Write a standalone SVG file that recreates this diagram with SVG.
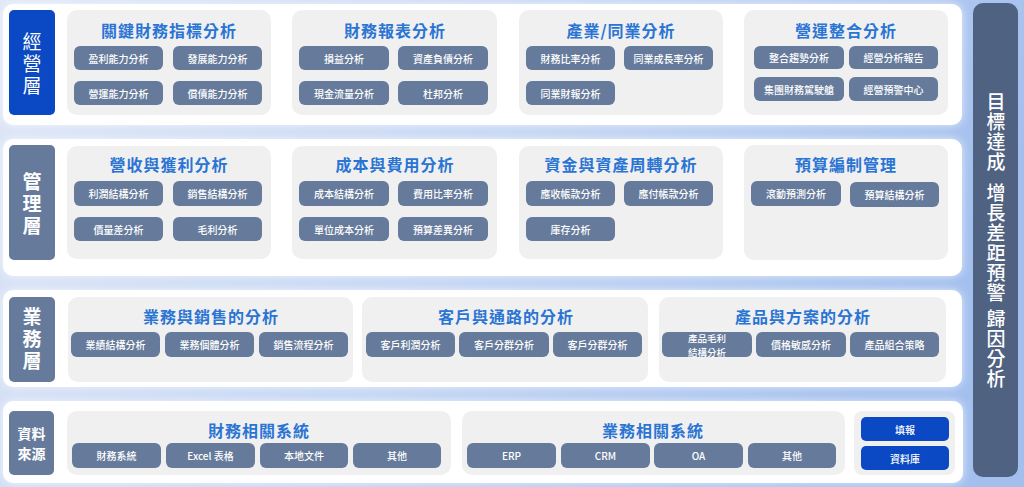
<svg xmlns="http://www.w3.org/2000/svg" width="1024" height="487" viewBox="0 0 1024 487">
<defs>
<linearGradient id="bg" x1="0" y1="0" x2="1" y2="0.3">
<stop offset="0" stop-color="#dfe7f7"/>
<stop offset="0.55" stop-color="#c3d5f3"/>
<stop offset="1" stop-color="#a3bfee"/>
</linearGradient>
<filter id="glow" x="-5%" y="-20%" width="110%" height="140%">
<feDropShadow dx="0" dy="0" stdDeviation="5" flood-color="#ffffff" flood-opacity="0.7"/>
</filter>
<style>
.panel{fill:#ffffff}
.grp{fill:#f0f0f0}
.item{fill:#667b9b}
.blue{fill:#0a49c3}
.slate{fill:#667b9b}
.col{fill:#4f6282}
text{font-family:"Noto Sans CJK TC","Noto Sans CJK SC",sans-serif;text-anchor:middle;dominant-baseline:central}
.it{font-size:10px;fill:#ffffff;font-weight:500}
.it2{font-size:9.5px;fill:#ffffff;font-weight:500}
.title{font-size:16px;font-weight:700;fill:#2a74d4;letter-spacing:1px}
.lab{font-size:19px;fill:#ffffff;writing-mode:vertical-rl;text-anchor:start;letter-spacing:3px}
.labb{font-size:19px;fill:#ffffff;font-weight:700;writing-mode:vertical-rl;text-anchor:start;letter-spacing:3px}
.src{font-size:14px;fill:#ffffff;font-weight:700}
.side{font-size:19px;fill:#ffffff;font-weight:500;writing-mode:vertical-rl;text-anchor:start;letter-spacing:1px}
</style>
</defs>
<rect width="1024" height="487" fill="url(#bg)"/>

<!-- Row panels -->
<g id="panels" filter="url(#glow)">
<rect class="panel" x="3" y="4" width="959" height="121" rx="10"/>
<rect class="panel" x="3" y="139" width="959" height="137" rx="10"/>
<rect class="panel" x="3" y="290" width="959" height="97" rx="10"/>
<rect class="panel" x="3" y="401" width="960" height="82" rx="10"/>
</g>

<!-- Row 1 -->
<g id="layer-jingying">
<rect class="blue" x="9" y="10" width="46" height="105" rx="5"/>
<text class="lab" x="32" y="32.5">經營層</text>
</g>
<g id="g-kpi">
<rect class="grp" x="67" y="10" width="204" height="105" rx="10"/>
<text class="title" x="169" y="30">關鍵財務指標分析</text>
<rect class="item" x="74" y="46" width="89" height="24" rx="6"/><text class="it" x="118.5" y="58">盈利能力分析</text>
<rect class="item" x="173" y="46" width="89" height="24" rx="6"/><text class="it" x="217.5" y="58">發展能力分析</text>
<rect class="item" x="74" y="81" width="89" height="24" rx="6"/><text class="it" x="118.5" y="93">營運能力分析</text>
<rect class="item" x="173" y="81" width="89" height="24" rx="6"/><text class="it" x="217.5" y="93">償債能力分析</text>
</g>
<g id="g-report">
<rect class="grp" x="292" y="10" width="205" height="105" rx="10"/>
<text class="title" x="395" y="30">財務報表分析</text>
<rect class="item" x="299" y="46" width="90" height="24" rx="6"/><text class="it" x="344" y="58">損益分析</text>
<rect class="item" x="398" y="46" width="90" height="24" rx="6"/><text class="it" x="443" y="58">資產負債分析</text>
<rect class="item" x="299" y="81" width="90" height="24" rx="6"/><text class="it" x="344" y="93">現金流量分析</text>
<rect class="item" x="398" y="81" width="90" height="24" rx="6"/><text class="it" x="443" y="93">杜邦分析</text>
</g>
<g id="g-industry">
<rect class="grp" x="519" y="10" width="204" height="105" rx="10"/>
<text class="title" x="621" y="30">產業/同業分析</text>
<rect class="item" x="526" y="46" width="89" height="24" rx="6"/><text class="it" x="570.5" y="58">財務比率分析</text>
<rect class="item" x="624" y="46" width="89" height="24" rx="6"/><text class="it" x="668.5" y="58">同業成長率分析</text>
<rect class="item" x="526" y="81" width="89" height="24" rx="6"/><text class="it" x="570.5" y="93">同業財報分析</text>
</g>
<g id="g-ops">
<rect class="grp" x="744" y="10" width="204" height="105" rx="10"/>
<text class="title" x="846" y="30">營運整合分析</text>
<rect class="item" x="754" y="46" width="90" height="23" rx="6"/><text class="it" x="799" y="57.5">整合趨勢分析</text>
<rect class="item" x="849" y="46" width="89" height="23" rx="6"/><text class="it" x="893.5" y="57.5">經營分析報告</text>
<rect class="item" x="754" y="77" width="90" height="24" rx="6"/><text class="it" x="799" y="89">集團財務駕駛艙</text>
<rect class="item" x="849" y="77" width="89" height="24" rx="6"/><text class="it" x="893.5" y="89">經營預警中心</text>
</g>

<!-- Row 2 -->
<g id="layer-guanli">
<rect class="slate" x="9" y="145" width="46" height="115" rx="5"/>
<text class="labb" x="32" y="172.5">管理層</text>
</g>
<g id="g-revenue">
<rect class="grp" x="67" y="146" width="204" height="113" rx="10"/>
<text class="title" x="169" y="164">營收與獲利分析</text>
<rect class="item" x="74" y="181" width="89" height="25" rx="6"/><text class="it" x="118.5" y="193.5">利潤結構分析</text>
<rect class="item" x="173" y="181" width="89" height="25" rx="6"/><text class="it" x="217.5" y="193.5">銷售結構分析</text>
<rect class="item" x="74" y="217" width="89" height="24" rx="6"/><text class="it" x="118.5" y="229">價量差分析</text>
<rect class="item" x="173" y="217" width="89" height="24" rx="6"/><text class="it" x="217.5" y="229">毛利分析</text>
</g>
<g id="g-cost">
<rect class="grp" x="292" y="146" width="205" height="113" rx="10"/>
<text class="title" x="395" y="164">成本與費用分析</text>
<rect class="item" x="299" y="181" width="90" height="25" rx="6"/><text class="it" x="344" y="193.5">成本結構分析</text>
<rect class="item" x="398" y="181" width="90" height="25" rx="6"/><text class="it" x="443" y="193.5">費用比率分析</text>
<rect class="item" x="299" y="217" width="90" height="24" rx="6"/><text class="it" x="344" y="229">單位成本分析</text>
<rect class="item" x="398" y="217" width="90" height="24" rx="6"/><text class="it" x="443" y="229">預算差異分析</text>
</g>
<g id="g-capital">
<rect class="grp" x="519" y="146" width="204" height="113" rx="10"/>
<text class="title" x="621" y="164">資金與資產周轉分析</text>
<rect class="item" x="526" y="181" width="89" height="25" rx="6"/><text class="it" x="570.5" y="193.5">應收帳款分析</text>
<rect class="item" x="624" y="181" width="89" height="25" rx="6"/><text class="it" x="668.5" y="193.5">應付帳款分析</text>
<rect class="item" x="526" y="217" width="89" height="24" rx="6"/><text class="it" x="570.5" y="229">庫存分析</text>
</g>
<g id="g-budget">
<rect class="grp" x="744" y="145" width="204" height="115" rx="10"/>
<text class="title" x="846" y="164">預算編制管理</text>
<rect class="item" x="751" y="181" width="90" height="25" rx="6"/><text class="it" x="796" y="193.5">滾動預測分析</text>
<rect class="item" x="850" y="182" width="89" height="25" rx="6"/><text class="it" x="894.5" y="194.5">預算結構分析</text>
</g>

<!-- Row 3 -->
<g id="layer-yewu">
<rect class="slate" x="9" y="297" width="46" height="85" rx="5"/>
<text class="labb" x="32" y="307.5">業務層</text>
</g>
<g id="g-sales">
<rect class="grp" x="68" y="297" width="285" height="85" rx="10"/>
<text class="title" x="211" y="316">業務與銷售的分析</text>
<rect class="item" x="71" y="332" width="89" height="25" rx="6"/><text class="it" x="115.5" y="344.5">業績結構分析</text>
<rect class="item" x="165" y="332" width="89" height="25" rx="6"/><text class="it" x="209.5" y="344.5">業務個體分析</text>
<rect class="item" x="259" y="332" width="89" height="25" rx="6"/><text class="it" x="303.5" y="344.5">銷售流程分析</text>
</g>
<g id="g-customer">
<rect class="grp" x="362" y="297" width="286" height="85" rx="10"/>
<text class="title" x="506" y="316">客戶與通路的分析</text>
<rect class="item" x="366" y="332" width="89" height="25" rx="6"/><text class="it" x="410.5" y="344.5">客戶利潤分析</text>
<rect class="item" x="459" y="332" width="90" height="25" rx="6"/><text class="it" x="504" y="344.5">客戶分群分析</text>
<rect class="item" x="553" y="332" width="89" height="25" rx="6"/><text class="it" x="597.5" y="344.5">客戶分群分析</text>
</g>
<g id="g-product">
<rect class="grp" x="659" y="297" width="287" height="85" rx="10"/>
<text class="title" x="803" y="316">產品與方案的分析</text>
<rect class="item" x="662" y="332" width="90" height="25" rx="6"/>
<text class="it2"><tspan x="707" y="337.5">產品毛利</tspan><tspan x="707" y="351.5">結構分析</tspan></text>
<rect class="item" x="756" y="332" width="90" height="25" rx="6"/><text class="it" x="801" y="344.5">價格敏感分析</text>
<rect class="item" x="850" y="332" width="89" height="25" rx="6"/><text class="it" x="894.5" y="344.5">產品組合策略</text>
</g>

<!-- Row 4 -->
<g id="layer-source">
<rect class="slate" x="9" y="411" width="45" height="64" rx="5"/>
<text class="src"><tspan x="31.5" y="433">資料</tspan><tspan x="31.5" y="453">來源</tspan></text>
</g>
<g id="g-finsys">
<rect class="grp" x="67" y="411" width="384" height="64" rx="10"/>
<text class="title" x="259" y="430">財務相關系統</text>
<rect class="item" x="72" y="443" width="89" height="25" rx="6"/><text class="it" x="116.5" y="455.5">財務系統</text>
<rect class="item" x="166" y="443" width="89" height="25" rx="6"/><text class="it" x="210.5" y="455.5">Excel 表格</text>
<rect class="item" x="260" y="443" width="88" height="25" rx="6"/><text class="it" x="304" y="455.5">本地文件</text>
<rect class="item" x="353" y="443" width="88" height="25" rx="6"/><text class="it" x="397" y="455.5">其他</text>
</g>
<g id="g-bizsys">
<rect class="grp" x="462" y="411" width="383" height="64" rx="10"/>
<text class="title" x="653" y="430">業務相關系統</text>
<rect class="item" x="467" y="443" width="89" height="25" rx="6"/><text class="it" x="511.5" y="455.5">ERP</text>
<rect class="item" x="561" y="443" width="89" height="25" rx="6"/><text class="it" x="605.5" y="455.5">CRM</text>
<rect class="item" x="654" y="443" width="89" height="25" rx="6"/><text class="it" x="698.5" y="455.5">OA</text>
<rect class="item" x="748" y="443" width="88" height="25" rx="6"/><text class="it" x="792" y="455.5">其他</text>
</g>
<g id="g-input">
<rect class="grp" x="854" y="411" width="101" height="64" rx="8"/>
<rect class="blue" x="861" y="417" width="88" height="24" rx="5"/><text class="it" x="905" y="429">填報</text>
<rect class="blue" x="861" y="446" width="88" height="24" rx="5"/><text class="it" x="905" y="458">資料庫</text>
</g>

<!-- Right column -->
<g id="goal-column">
<rect class="col" x="973" y="3" width="45" height="474" rx="10"/>
<text class="side" x="996" y="92.5">目標達成<tspan y="183.5">增長差距</tspan><tspan y="263.5">預警</tspan><tspan y="309.5">歸因分析</tspan></text>
</g>
<g id="connectors"></g>
</svg>
